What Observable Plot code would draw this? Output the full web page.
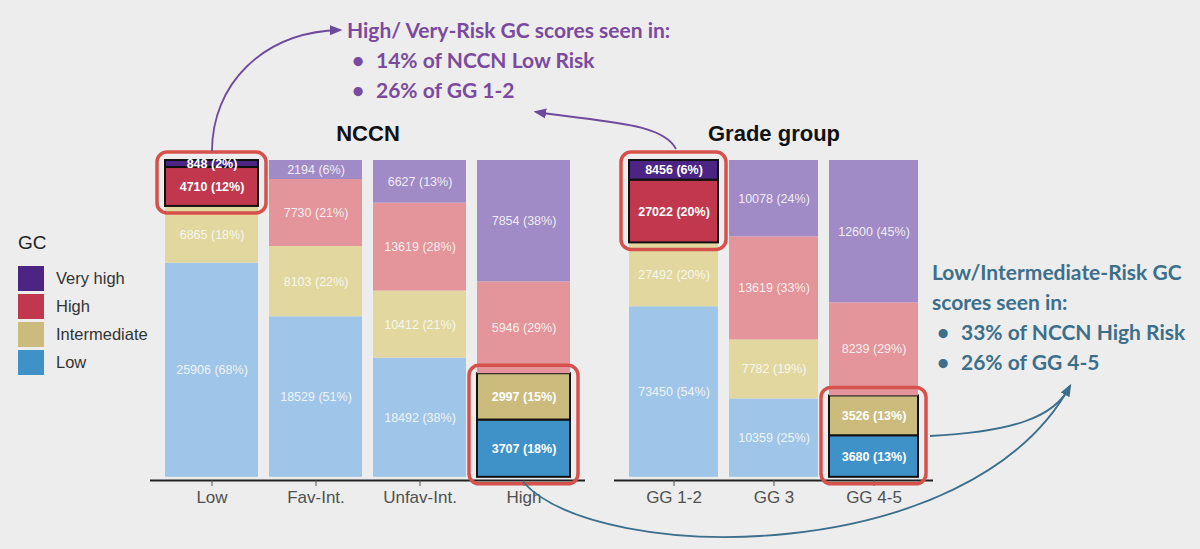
<!DOCTYPE html>
<html><head><meta charset="utf-8">
<script src="https://cdn.jsdelivr.net/npm/d3@7"></script>
<script src="https://cdn.jsdelivr.net/npm/@observablehq/plot@0.6"></script>
<style>
body{margin:0;background:#ededed;}
#wrap{position:relative;width:1200px;height:549px;overflow:hidden;background:#ededed;font-family:"Liberation Sans",Arial,sans-serif;}
#wrap svg{position:absolute;left:0;top:0;}
.legend{position:absolute;left:18px;top:232px;color:#222;}
.legend .ttl{font-size:19px;margin-bottom:10px;}
.legend .row{display:flex;align-items:center;height:28px;font-size:16.5px;color:#333;}
.legend .sw{width:26px;height:25px;margin-right:12px;}
.ann{position:absolute;font-family:Lato,"Open Sans",sans-serif;font-weight:bold;font-size:21px;line-height:30px;white-space:nowrap;}
.ann .b{display:inline-block;width:29px;}
#annP{left:347px;top:15px;color:#7b4a9f;}
#annT{left:932px;top:257px;color:#3c6f8b;}
</style></head><body><div id="wrap"></div>
<script>
const levels = ["Very high","High","Intermediate","Low"];
const nccnCats = ["Low","Fav-Int.","Unfav-Int.","High"];
const nccnVeryHigh = [848,2194,6627,7854];
const nccnHigh = [4710,7730,13619,5946];
const nccnInter = [6865,8103,10412,2997];
const nccnLow = [25906,18529,18492,3707];
const ggCats = ["GG 1-2","GG 3","GG 4-5"];
const ggVeryHigh = [8456,10078,12600];
const ggHigh = [27022,13619,8239];
const ggInter = [27492,7782,3526];
const ggLow = [73450,10359,3680];
const nccnHighlight = {"Low":["Very high","High"],"High":["Intermediate","Low"]};
const ggHighlight = {"GG 1-2":["Very high","High"],"GG 4-5":["Intermediate","Low"]};
const darkColors = {"Very high":"#4b2484","High":"#c0374e","Intermediate":"#cbbb7c","Low":"#3f92c7"};
const fadedColors = {"Very high":"#a18bc6","High":"#e3959b","Intermediate":"#e2d89f","Low":"#9fc6e8"};

function build(cats, series, hl){
  const rows=[], boxes=[];
  cats.forEach((c,i)=>{
    const vals = {"Very high":series[0][i],"High":series[1][i],"Intermediate":series[2][i],"Low":series[3][i]};
    const total = d3.sum(Object.values(vals));
    let acc = 0;
    const hlLev = hl[c]||[];
    let b1=null,b2=null;
    ["Low","Intermediate","High","Very high"].forEach(l=>{
      const v=vals[l];
      const y1=acc/total, y2=(acc+v)/total; acc+=v;
      const h = hlLev.includes(l);
      rows.push({cat:c, level:l, y1, y2, hl:h, color: h?darkColors[l]:fadedColors[l], label:`${v} (${Math.round(v/total*100)}%)`});
      if(h){ b1 = b1===null?y1:Math.min(b1,y1); b2 = b2===null?y2:Math.max(b2,y2); }
    });
    if(b1!==null) boxes.push({cat:c,y1:b1,y2:b2});
  });
  return {rows,boxes};
}

function panel(cats, series, hl, title, ml, mr){
  const {rows,boxes} = build(cats, series, hl);
  return Plot.plot({
    width:1200, height:549, marginLeft:ml, marginRight:mr, marginTop:160, marginBottom:69,
    style:{background:"transparent", fontFamily:"'Liberation Sans', Arial, sans-serif", overflow:"visible"},
    x:{domain:cats, paddingInner:0.106, paddingOuter:0.144, label:null},
    y:{domain:[-0.01,1], axis:null},
    marks:[
      Plot.barY(rows,{x:"cat", y1:"y1", y2:"y2", fill:"color", stroke:d=>d.hl?"#111":"none", strokeWidth:2}),
      Plot.ruleY([-0.01],{stroke:"#222", strokeWidth:2}),
      Plot.axisX({tickSize:6, tickPadding:4, fontSize:17, color:"#505050", label:null}),
      Plot.text(rows.filter(d=>!d.hl),{x:"cat", y:d=>(d.y1+d.y2)/2, text:"label", fill:"#fafafa", fillOpacity:0.9, fontSize:12.5}),
      Plot.text(rows.filter(d=>d.hl),{x:"cat", y:d=>(d.y1+d.y2)/2, text:"label", fill:"white", fontWeight:"bold", fontSize:12.5}),
      Plot.barY(boxes,{x:"cat", y1:"y1", y2:"y2", fill:"none", stroke:"#d6504c", strokeWidth:3.5, rx:10, insetLeft:-8, insetRight:-8, insetTop:-8, insetBottom:-7}),
      Plot.text([title],{frameAnchor:"top", dy:-20, fontSize:22, fontWeight:"bold", fill:"#111", lineAnchor:"bottom"})
    ]
  });
}

const wrap = document.getElementById("wrap");
wrap.appendChild(panel(nccnCats,[nccnVeryHigh,nccnHigh,nccnInter,nccnLow],nccnHighlight,"NCCN",150,615));
wrap.appendChild(panel(ggCats,[ggVeryHigh,ggHigh,ggInter,ggLow],ggHighlight,"Grade group",614,267));

// legend
const lg = document.createElement("div"); lg.className="legend";
lg.innerHTML = `<div class="ttl">GC</div>` + levels.map(l=>`<div class="row"><div class="sw" style="background:${darkColors[l]}"></div>${l}</div>`).join("");
wrap.appendChild(lg);

// annotations
const annPurpleTitle = "High/ Very-Risk GC scores seen in:";
const annPurpleItems = ["14% of NCCN Low Risk","26% of GG 1-2"];
const annTealTitle = ["Low/Intermediate-Risk GC","scores seen in:"];
const annTealItems = ["33% of NCCN High Risk","26% of GG 4-5"];
const aP = document.createElement("div"); aP.className="ann"; aP.id="annP";
aP.innerHTML = `<div>${annPurpleTitle}</div>` + annPurpleItems.map(t=>`<div><span class="b">&nbsp;•</span>${t}</div>`).join("");
wrap.appendChild(aP);
const aT = document.createElement("div"); aT.className="ann"; aT.id="annT";
aT.innerHTML = annTealTitle.map(t=>`<div>${t}</div>`).join("") + annTealItems.map(t=>`<div><span class="b">&nbsp;•</span>${t}</div>`).join("");
wrap.appendChild(aT);

// arrows
const svg = d3.select(wrap).append("svg").attr("width",1200).attr("height",549).style("pointer-events","none");
const defs = svg.append("defs");
[["mp","#6d4a9c"],["mt","#3c6f8b"]].forEach(([id,c])=>{
  defs.append("marker").attr("id",id).attr("viewBox","0 0 10 10").attr("refX",8).attr("refY",5)
    .attr("markerWidth",7).attr("markerHeight",7).attr("orient","auto-start-reverse")
    .append("path").attr("d","M0,1 L10,5 L0,9 Z").attr("fill",c);
});
const arrows = [
  ["M212,151 C212,85 262,32 340,30","#6d4a9c","mp"],
  ["M676,149 C662,122 600,122 536,112","#6d4a9c","mp"],
  ["M523,482 C600,566 970,568 1070,386","#3c6f8b","mt"],
  ["M930,436 C1010,432 1055,418 1070,386","#3c6f8b",null]
];
arrows.forEach(([d,c,m])=>{
  const p = svg.append("path").attr("d",d).attr("fill","none").attr("stroke",c).attr("stroke-width",1.8);
  if(m) p.attr("marker-end",`url(#${m})`);
});
</script></body></html>
